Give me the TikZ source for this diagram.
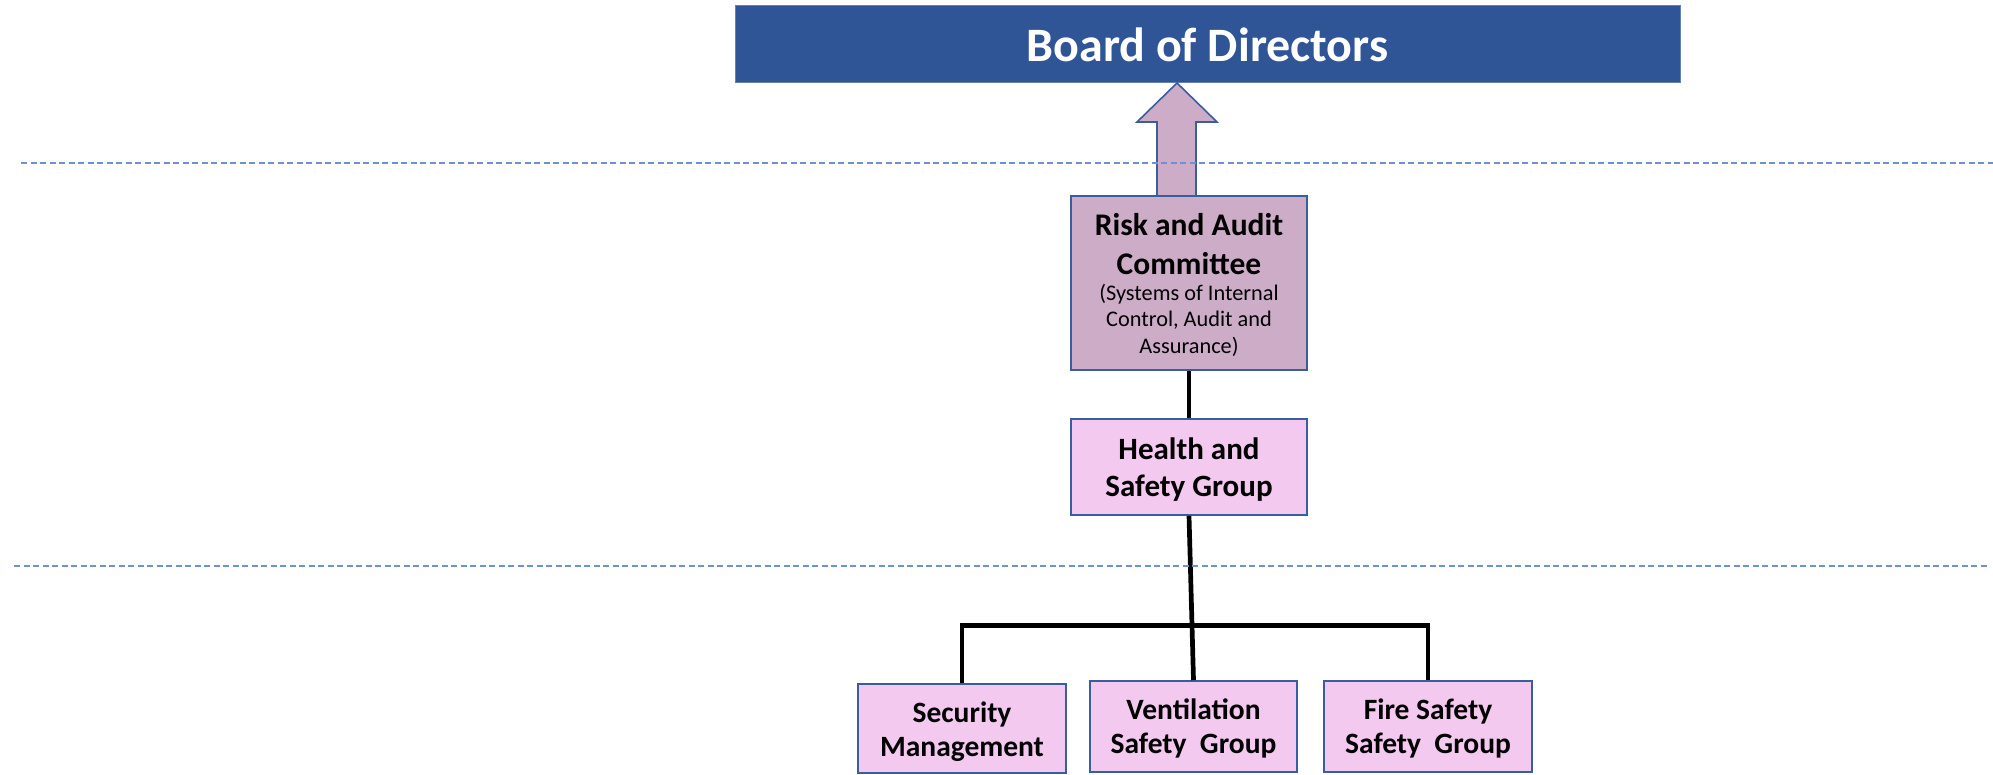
\documentclass[tikz,border=0pt]{standalone}
\usepackage{fontspec}
\setmainfont{Carlito}
\usetikzlibrary{calc}
\definecolor{boardblue}{HTML}{2F5597}
\definecolor{edgeblue}{HTML}{3A5DA0}
\definecolor{mauve}{HTML}{CDACC8}
\definecolor{pinkbox}{HTML}{F3C9EF}
\definecolor{dashblue}{HTML}{6F91D3}
\begin{document}
\begin{tikzpicture}[x=1pt,y=-1pt,
  box/.style={draw=edgeblue, line width=1.6pt, align=center, inner sep=0pt, text=black},
  pinkstyle/.style={box, fill=pinkbox},
  conn/.style={line width=4.7pt, black, line join=miter},
  guide/.style={draw=dashblue, line width=1.5pt, dash pattern=on 6pt off 3.5pt},
  blockarrow/.style={draw=edgeblue, fill=mauve, line width=1.6pt, line join=miter},
  bottomfont/.style={font=\fontsize{29.5}{34}\selectfont\bfseries}]
\useasboundingbox (0,0) rectangle (1993,775);

% board
\node[fill=boardblue, draw=boardblue!75!white, line width=1pt, minimum width=945pt, minimum height=77pt,
      inner sep=0pt, text=white, font=\fontsize{48}{56}\selectfont\bfseries] (board) at (1207.5,44.5) {Board of Directors};

% block arrow
\coordinate (tip) at (1177,83);
\draw[blockarrow] (tip) -- (1217,122) -- (1196,122) -- (1196,196) -- (1157,196) -- (1157,122) -- (1137,122) -- cycle;

% risk
\node[box, fill=mauve, minimum width=236pt, minimum height=174pt, text height=145pt, text depth=5pt,
      font=\fontsize{31.5}{39}\selectfont\bfseries] (risk) at (1189,283)
 {Risk and Audit\\Committee\\[-13pt]
  \fontsize{22.3}{25}\selectfont\mdseries (Systems of Internal\\[-12.5pt]
  \fontsize{22.3}{25}\selectfont\mdseries Control, Audit and\\[-12.5pt]
  \fontsize{22.3}{25}\selectfont\mdseries Assurance)};

% health
\node[pinkstyle, minimum width=236pt, minimum height=96pt, text height=62pt, text depth=4pt,
      font=\fontsize{31}{37}\selectfont\bfseries] (health) at (1189,467) {Health and\\Safety Group};

% bottom row
\node[pinkstyle, bottomfont, minimum width=208pt, minimum height=89pt, text height=58pt, text depth=3pt] (sec) at (962,728.5)
 {Security\\Management};
\node[pinkstyle, bottomfont, minimum width=207pt, minimum height=91pt, text height=56pt, text depth=3pt] (vent) at (1193.5,726.5)
 {Ventilation\\Safety~ Group};
\node[pinkstyle, bottomfont, minimum width=208pt, minimum height=91pt, text height=56pt, text depth=3pt] (fire) at (1428,726.5)
 {Fire Safety\\Safety~ Group};

% connectors
\draw[conn] (risk.south) -- (health.north);
\draw[conn] (health.south) -- (vent.north);
\coordinate (bar) at (0,625.5);
\draw[conn] (sec.north) -- (sec.north |- bar) -- (fire.north |- bar) -- (fire.north);

% dashed guide lines
\coordinate (g1a) at (21,163);
\coordinate (g1b) at (1993,163);
\coordinate (g2a) at (14,566);
\coordinate (g2b) at (1988,566);
\draw[guide] (g1a) -- (g1b);
\draw[guide] (g2a) -- (g2b);
\end{tikzpicture}
\end{document}
